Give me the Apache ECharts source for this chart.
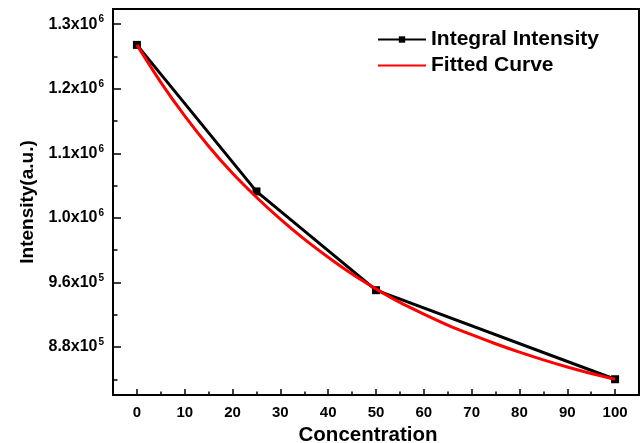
<!DOCTYPE html>
<html>
<head>
<meta charset="utf-8">
<script src="https://cdn.jsdelivr.net/npm/echarts@6/dist/echarts.min.js"></script>
<style>
  html, body { margin: 0; padding: 0; background: #fff; }
  #chart-container { width: 643px; height: 443px; }
</style>
</head>
<body>
<div id="chart-container"></div>
<script>
var dom = document.getElementById('chart-container');
var myChart = echarts.init(dom, null, { renderer: 'canvas' });

// measured points
const concentration = [0, 25, 50, 100];
const intensity = [1.268, 1.041, 0.888, 0.750];

// fitted curve
const fitX = [0, 5, 10, 15, 20, 25, 30, 35, 40, 45, 50, 55, 60, 65, 70, 75, 80, 85, 90, 95, 100];
const fitY = [1.268, 1.210, 1.158, 1.111, 1.069, 1.032, 0.998, 0.967, 0.939, 0.913, 0.890, 0.869, 0.851, 0.834, 0.819, 0.805, 0.792, 0.780, 0.769, 0.759, 0.750];

// axis ticks
const xTicks = [0, 10, 20, 30, 40, 50, 60, 70, 80, 90, 100];
const xMinorTicks = [5, 15, 25, 35, 45, 55, 65, 75, 85, 95];
const yTicks = [0.8, 0.9, 1.0, 1.1, 1.2, 1.3];
const yMinorTicks = [0.75, 0.85, 0.95, 1.05, 1.15, 1.25];
const yTickMantissa = ['8.8', '9.6', '1.0', '1.1', '1.2', '1.3'];
const yTickExp = ['5', '5', '6', '6', '6', '6'];

const font = 'Liberation Sans, Arial, sans-serif';

function yLabel(v) {
  for (var i = 0; i < yTicks.length; i++) {
    if (Math.abs(yTicks[i] - v) < 1e-6) {
      return '{m|' + yTickMantissa[i] + 'x10}{e|' + yTickExp[i] + '}';
    }
  }
  return '';
}

var option = {
  animation: false,
  backgroundColor: '#fff',
  grid: {
    left: 113, right: 4, top: 9, bottom: 48,
    outerBoundsMode: 'none',
    show: true,
    borderColor: '#000',
    borderWidth: 2,
    backgroundColor: 'transparent'
  },
  legend: {
    left: 372,
    top: 24,
    orient: 'vertical',
    itemWidth: 48,
    itemHeight: 8,
    itemGap: 5,
    textStyle: { fontFamily: font, fontSize: 21, fontWeight: 'bold', color: '#000' },
    data: [
      { name: 'Integral Intensity' },
      { name: 'Fitted Curve', itemStyle: { opacity: 0 } }
    ]
  },
  xAxis: [{
    type: 'value',
    min: -5, max: 105,
    name: 'Concentration',
    nameLocation: 'middle',
    nameGap: 27,
    nameTextStyle: { fontFamily: font, fontSize: 20.5, fontWeight: 'bold', color: '#000', padding: [0, 16, 0, 0] },
    axisLine: { show: true, onZero: false, lineStyle: { color: '#000', width: 2 } },
    axisTick: { show: true, inside: true, length: 6, lineStyle: { color: '#000', width: 1.5 }, customValues: xTicks },
    axisLabel: { margin: 10, fontFamily: font, fontSize: 15, fontWeight: 'bold', color: '#000', customValues: xTicks },
    splitLine: { show: false }
  }, {
    type: 'value',
    position: 'bottom',
    min: -5, max: 105,
    axisLine: { show: false, onZero: false },
    axisTick: { show: true, inside: true, length: 3.5, lineStyle: { color: '#000', width: 1.5 }, customValues: xMinorTicks },
    axisLabel: { show: false },
    splitLine: { show: false }
  }],
  yAxis: [{
    type: 'value',
    min: 0.7256, max: 1.3236,
    name: 'Intensity(a.u.)',
    nameLocation: 'middle',
    nameGap: 76,
    nameTextStyle: { fontFamily: font, fontSize: 19, fontWeight: 'bold', color: '#000' },
    axisLine: { show: true, onZero: false, lineStyle: { color: '#000', width: 2 } },
    axisTick: { show: true, inside: true, length: 8, lineStyle: { color: '#000', width: 1.5 }, customValues: yTicks },
    axisLabel: {
      margin: 9,
      customValues: yTicks,
      formatter: yLabel,
      rich: {
        m: { fontFamily: font, fontSize: 16, fontWeight: 'bold', color: '#000' },
        e: { fontFamily: font, fontSize: 10, fontWeight: 'bold', color: '#000', padding: [0, 0, 9, 1] }
      }
    },
    splitLine: { show: false }
  }, {
    type: 'value',
    position: 'left',
    min: 0.7256, max: 1.3236,
    axisLine: { show: false, onZero: false },
    axisTick: { show: true, inside: true, length: 4.5, lineStyle: { color: '#000', width: 1.5 }, customValues: yMinorTicks },
    axisLabel: { show: false },
    splitLine: { show: false }
  }],
  series: [
    {
      name: 'Integral Intensity',
      type: 'line',
      data: concentration.map(function (c, i) { return [c, intensity[i]]; }),
      symbol: 'rect',
      symbolSize: 8,
      lineStyle: { color: '#000', width: 3 },
      itemStyle: { color: '#000' },
      z: 2
    },
    {
      name: 'Fitted Curve',
      type: 'line',
      data: fitX.map(function (x, i) { return [x, fitY[i]]; }),
      smooth: 0.3,
      showSymbol: false,
      symbol: 'none',
      lineStyle: { color: '#ff0000', width: 3 },
      itemStyle: { color: '#ff0000' },
      z: 3
    }
  ]
};

myChart.setOption(option);
window.addEventListener('resize', myChart.resize);
</script>
</body>
</html>
